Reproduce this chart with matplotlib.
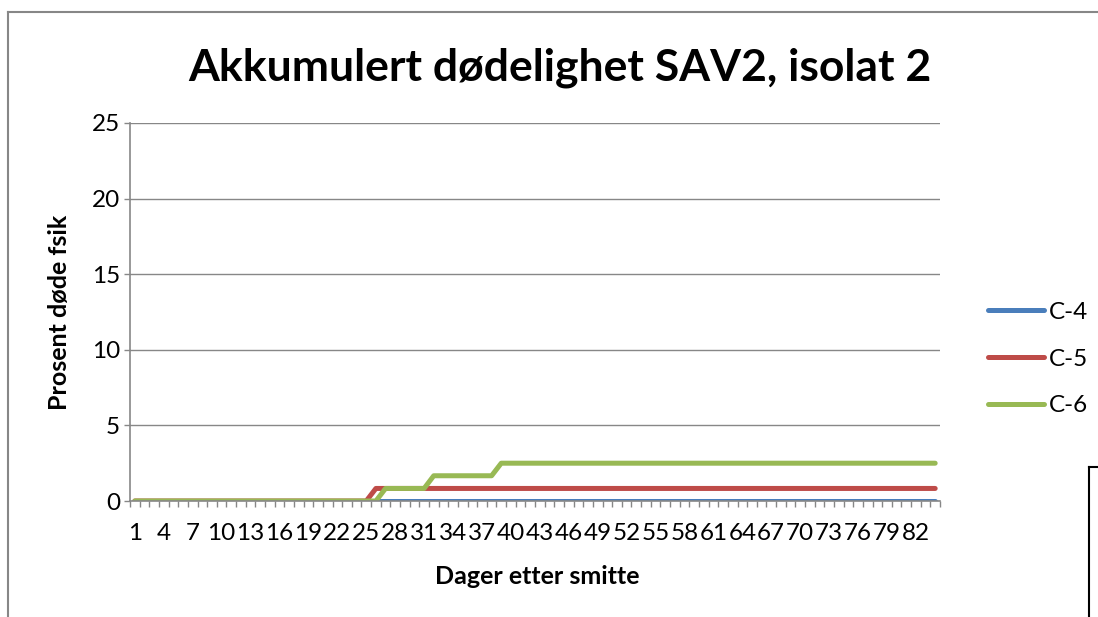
import matplotlib
matplotlib.use("Agg")
import matplotlib.pyplot as plt
from matplotlib.lines import Line2D

plt.rcParams['font.family'] = ['Lato', 'DejaVu Sans']

days = list(range(1, 85))
c4 = [0, 0, 0, 0, 0, 0, 0, 0, 0, 0, 0, 0,
      0, 0, 0, 0, 0, 0, 0, 0, 0, 0, 0, 0,
      0, 0, 0, 0, 0, 0, 0, 0, 0, 0, 0, 0,
      0, 0, 0, 0, 0, 0, 0, 0, 0, 0, 0, 0,
      0, 0, 0, 0, 0, 0, 0, 0, 0, 0, 0, 0,
      0, 0, 0, 0, 0, 0, 0, 0, 0, 0, 0, 0,
      0, 0, 0, 0, 0, 0, 0, 0, 0, 0, 0, 0]
c5 = [0, 0, 0, 0, 0, 0, 0, 0, 0, 0, 0, 0,
      0, 0, 0, 0, 0, 0, 0, 0, 0, 0, 0, 0,
      0, 0.83, 0.83, 0.83, 0.83, 0.83, 0.83, 0.83, 0.83, 0.83, 0.83, 0.83,
      0.83, 0.83, 0.83, 0.83, 0.83, 0.83, 0.83, 0.83, 0.83, 0.83, 0.83, 0.83,
      0.83, 0.83, 0.83, 0.83, 0.83, 0.83, 0.83, 0.83, 0.83, 0.83, 0.83, 0.83,
      0.83, 0.83, 0.83, 0.83, 0.83, 0.83, 0.83, 0.83, 0.83, 0.83, 0.83, 0.83,
      0.83, 0.83, 0.83, 0.83, 0.83, 0.83, 0.83, 0.83, 0.83, 0.83, 0.83, 0.83]
c6 = [0, 0, 0, 0, 0, 0, 0, 0, 0, 0, 0, 0,
      0, 0, 0, 0, 0, 0, 0, 0, 0, 0, 0, 0,
      0, 0, 0.83, 0.83, 0.83, 0.83, 0.83, 1.67, 1.67, 1.67, 1.67, 1.67,
      1.67, 1.67, 2.5, 2.5, 2.5, 2.5, 2.5, 2.5, 2.5, 2.5, 2.5, 2.5,
      2.5, 2.5, 2.5, 2.5, 2.5, 2.5, 2.5, 2.5, 2.5, 2.5, 2.5, 2.5,
      2.5, 2.5, 2.5, 2.5, 2.5, 2.5, 2.5, 2.5, 2.5, 2.5, 2.5, 2.5,
      2.5, 2.5, 2.5, 2.5, 2.5, 2.5, 2.5, 2.5, 2.5, 2.5, 2.5, 2.5]
series_names = ['C-4', 'C-5', 'C-6']
colors = ['#4A7EBB', '#BE4B48', '#98B954']
yticks = [0, 5, 10, 15, 20, 25]
title = 'Akkumulert dødelighet SAV2, isolat 2'
xlabel = 'Dager etter smitte'
ylabel = 'Prosent døde fsik'

W, H = 1098, 617
fig = plt.figure(figsize=(W / 100, H / 100), dpi=100)
ax = fig.add_axes([130 / W, 1 - 501 / H, 810 / W, 378 / H])

for vals, name, col in zip([c4, c5, c6], series_names, colors):
    ax.plot(days, vals, color=col, lw=3.6, label=name, solid_capstyle='round',
            solid_joinstyle='round')

ax.set_xlim(0.5, len(days) + 0.5)
ax.set_ylim(0, 25)
ax.set_yticks(yticks)
ax.yaxis.grid(True, color='#878787', lw=1)
ax.set_axisbelow(True)
for s in ['top', 'right']:
    ax.spines[s].set_visible(False)
for s in ['left', 'bottom']:
    ax.spines[s].set_color('#878787')
    ax.spines[s].set_linewidth(1.2)
ax.tick_params(axis='y', length=4, width=1, color='#878787', labelsize=17.5, pad=3)

lab_pos = days[::3]
ax.set_xticks(lab_pos)
ax.set_xticklabels([str(d) for d in lab_pos], fontsize=17.5)
ax.tick_params(axis='x', which='major', length=0, pad=16)
ax.set_xticks([d + 0.5 for d in [0] + days], minor=True)
ax.tick_params(axis='x', which='minor', length=4.3, width=1, color='#878787')

fig.text(537 / W, 1 - 577 / H, xlabel, fontsize=18, fontweight='bold',
         ha='center', va='center')
fig.text(60 / W, 1 - 312 / H, ylabel, fontsize=18, fontweight='bold',
         ha='center', va='center', rotation=90)

fig.text(560 / W, 1 - 68 / H, title, fontsize=32, fontweight='bold',
         ha='center', va='center')

ax.legend(loc='center left', bbox_to_anchor=(988 / W, 1 - 359 / H),
          bbox_transform=fig.transFigure, frameon=False, fontsize=17.5,
          borderpad=0, borderaxespad=0,
          handlelength=2.3, handletextpad=0.2, labelspacing=1.06)

# outer chart border
fig.add_artist(Line2D([8 / W, 8 / W], [0, 1 - 12 / H], transform=fig.transFigure,
                      color='#878787', lw=1.5))
fig.add_artist(Line2D([8 / W, 1], [1 - 12 / H, 1 - 12 / H], transform=fig.transFigure,
                      color='#878787', lw=1.5))
# partial box bottom right
fig.add_artist(Line2D([1089 / W, 1089 / W], [0, 1 - 467 / H], transform=fig.transFigure,
                      color='black', lw=1.5))
fig.add_artist(Line2D([1089 / W, 1], [1 - 467 / H, 1 - 467 / H], transform=fig.transFigure,
                      color='black', lw=1.5))

fig.savefig('out.png', dpi=100)
